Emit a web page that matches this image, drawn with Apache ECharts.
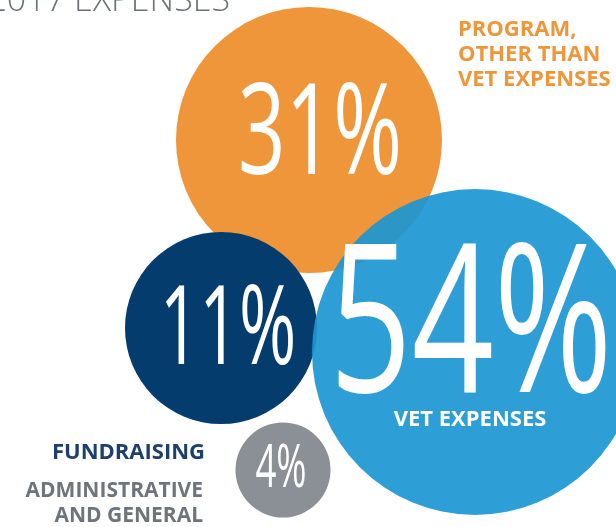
<!DOCTYPE html>
<html>
<head>
<meta charset="utf-8">
<script src="https://cdn.jsdelivr.net/npm/echarts@6/dist/echarts.min.js"></script>
<style>
html,body{margin:0;padding:0;background:#fff;}
#chart{width:616px;height:527px;}
</style>
</head>
<body>
<div id="chart"></div>
<script>
// ---- data ----
const title = '2017 EXPENSES';
const categories = ['PROGRAM, OTHER THAN VET EXPENSES', 'FUNDRAISING', 'ADMINISTRATIVE AND GENERAL', 'VET EXPENSES'];
const shares = [31, 11, 4, 54];

// ---- layout & style (pixel space of the hidden axes) ----
const layout = [
  { cx: 309, cy: 140, d: 266, color: '#f0963a', opacity: 1, pctX: 320, pctY: 138, pctSize: 126, sx: 0.66 },
  { cx: 221, cy: 328, d: 192, color: '#043c6e', opacity: 1, pctX: 228, pctY: 333, pctSize: 110, sx: 0.63 },
  { cx: 283, cy: 470, d: 95, color: '#8b9096', opacity: 1, pctX: 281, pctY: 470, pctSize: 61, sx: 0.6 },
  { cx: 475, cy: 352, d: 326, color: '#1b97d2', opacity: 0.92, pctX: 471, pctY: 333, pctSize: 208, sx: 0.69 }
];

const chart = echarts.init(document.getElementById('chart'), null, { renderer: 'canvas' });

const bubbleData = shares.map((v, i) => ({
  name: categories[i],
  value: [layout[i].cx, layout[i].cy, v],
  symbolSize: layout[i].d,
  itemStyle: { color: layout[i].color, opacity: layout[i].opacity }
}));
const pctData = shares.map((v, i) => [layout[i].pctX, layout[i].pctY, v, i]);

const boldFont = '700 22px "Open Sans", sans-serif';

chart.setOption({
  animation: false,
  grid: { left: 0, right: 0, top: 0, bottom: 0 },
  xAxis: { type: 'value', min: 0, max: 616, show: false },
  yAxis: { type: 'value', min: 0, max: 527, inverse: true, show: false },
  series: [{
    type: 'scatter',
    data: bubbleData,
    symbol: 'circle',
    label: { show: false },
    silent: true,
    z: 2
  }, {
    type: 'custom',
    data: pctData,
    silent: true,
    z: 5,
    renderItem: function (params, api) {
      const i = api.value(3);
      const L = layout[i];
      const p = api.coord([api.value(0), api.value(1)]);
      const children = [{
        type: 'text', x: p[0], y: p[1], scaleX: L.sx, scaleY: 1,
        style: {
          text: api.value(2) + '%', fill: '#ffffff',
          font: '400 ' + L.pctSize + 'px "Open Sans", sans-serif',
          align: 'center', verticalAlign: 'middle'
        }
      }];
      if (i === 3) {
        const q = api.coord([470, 420]);
        children.push({
          type: 'text', x: q[0], y: q[1],
          style: { text: categories[3], fill: '#ffffff', font: boldFont, align: 'center', verticalAlign: 'middle' }
        });
      }
      return { type: 'group', children: children };
    }
  }],
  graphic: { elements: [
    { type: 'text', left: 458, top: 17, style: { text: 'PROGRAM,\nOTHER THAN\nVET EXPENSES', fill: '#f0963a', font: boldFont, lineHeight: 25, textAlign: 'left' } },
    { type: 'text', right: 411, top: 442, style: { text: categories[1], fill: '#1e3f6d', font: boldFont, textAlign: 'right' } },
    { type: 'text', right: 413, top: 479, style: { text: 'ADMINISTRATIVE\nAND GENERAL', fill: '#6e747b', font: '700 21px "Open Sans", sans-serif', lineHeight: 25, textAlign: 'right' } },
    { type: 'text', right: 386, top: -16, style: { text: title, fill: '#6b7178', font: '300 34px "Open Sans", sans-serif', textAlign: 'right' } }
  ] }
});
</script>
</body>
</html>
